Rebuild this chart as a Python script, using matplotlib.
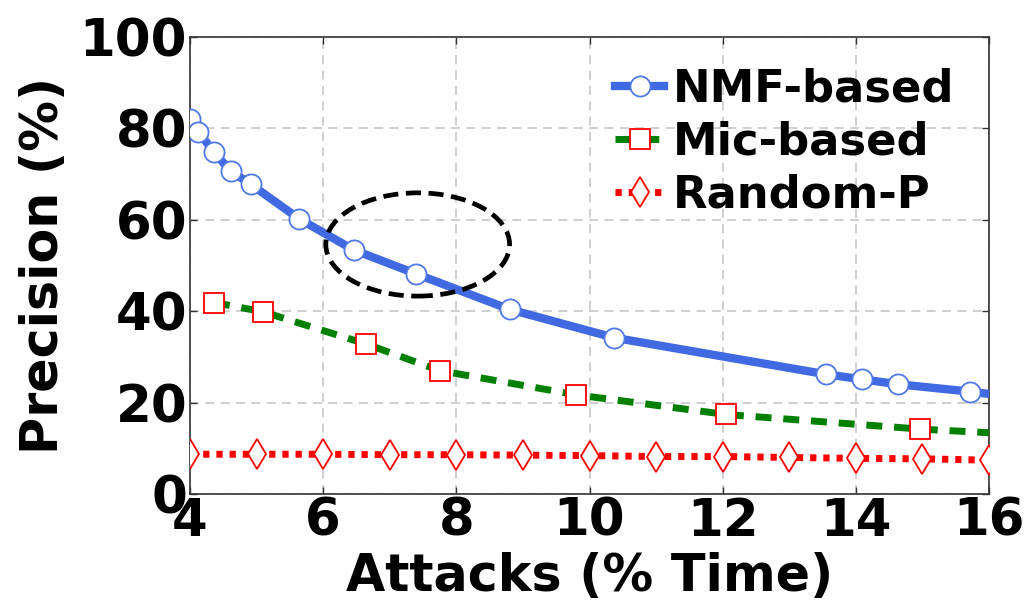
import matplotlib
matplotlib.use("Agg")
import matplotlib.pyplot as plt
from matplotlib.patches import Ellipse

# Attack share (% of time) vs. detection precision (%)
nmf_x = [4.0, 4.125, 4.36, 4.61, 4.91, 5.64, 6.46, 7.39, 8.80, 10.37, 13.55, 14.09, 14.64, 15.72, 16.0]
nmf_y = [82.0, 79.3, 74.8, 70.7, 67.8, 60.2, 53.4, 48.2, 40.4, 34.2, 26.2, 25.1, 24.0, 22.4, 21.9]

mic_x = [4.36, 5.09, 6.65, 7.75, 9.80, 12.05, 14.97, 16.0]
mic_y = [41.9, 39.9, 32.8, 27.0, 21.7, 17.4, 14.2, 13.4]

rand_x = [4, 5, 6, 7, 8, 9, 10, 11, 12, 13, 14, 15, 16]
rand_y = [8.7, 8.7, 8.7, 8.6, 8.6, 8.5, 8.4, 8.2, 8.2, 8.0, 7.8, 7.7, 7.4]

x_ticks = [4, 6, 8, 10, 12, 14, 16]
y_ticks = [0, 20, 40, 60, 80, 100]

plt.rcParams["font.family"] = ["DejaVu Sans"]
plt.rcParams["font.weight"] = "bold"

fig = plt.figure(figsize=(10.26, 6.0), dpi=100)
ax = fig.add_axes([190 / 1026, 1 - 494 / 600, (989 - 190) / 1026, (494 - 37) / 600])

ax.plot(nmf_x, nmf_y, color="#4169E1", lw=6, marker="o", ms=14.5,
        mfc="white", mec="#5079E6", mew=1.3,
        markevery=list(range(len(nmf_x) - 1)), label="NMF-based", zorder=3)
ax.plot(mic_x, mic_y, color="green", lw=5, ls=(0, (2.3, 1.7)), marker="s", ms=14,
        mfc="white", mec="red", mew=1.3,
        markevery=list(range(len(mic_x) - 1)), label="Mic-based", zorder=3)
ax.plot(rand_x, rand_y, color="red", lw=5, ls=(0, (0.9, 1.0)), marker="d", ms=15,
        mfc="white", mec="red", mew=1.3, label="Random-P", zorder=3)

ax.add_patch(Ellipse((7.42, 54.6), 2.76, 22.6, fill=False, edgecolor="black",
                     lw=3.4, ls=(0, (3.2, 1.6)), zorder=4))

ax.set_xlim(4, 16)
ax.set_ylim(0, 100)
ax.set_xticks(x_ticks)
ax.set_yticks(y_ticks)
ax.tick_params(axis="both", which="major", direction="in", length=5, width=1,
               top=True, right=True, labelsize=37, pad=2, color="#333333")
for lab in ax.get_xticklabels() + ax.get_yticklabels():
    lab.set_fontweight("bold")

ax.grid(True, color="#cccccc", ls=(0, (5, 3.5)), lw=1.3)
ax.set_axisbelow(True)
for sp in ax.spines.values():
    sp.set_color("#333333")
    sp.set_linewidth(1.2)

ax.set_xlabel("Attacks (% Time)", fontsize=36.5, fontweight="bold", labelpad=4)
ax.set_ylabel("Precision (%)", fontsize=36.5, fontweight="bold", labelpad=8)

leg = ax.legend(loc="upper right", frameon=False, fontsize=32.3, numpoints=1,
                handlelength=1.1, handletextpad=0.2, labelspacing=0.22,
                borderaxespad=0.29, bbox_to_anchor=(0.996, 1.0))
for t in leg.get_texts():
    t.set_fontweight("bold")

fig.savefig("out.png", dpi=100)
